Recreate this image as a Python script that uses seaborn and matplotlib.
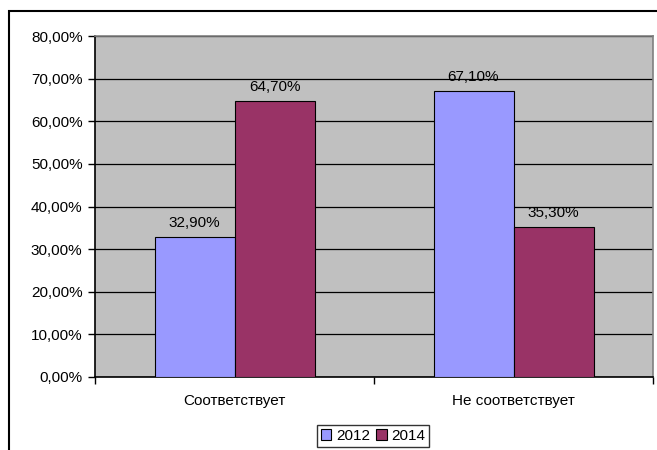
import matplotlib
matplotlib.use("Agg")
import matplotlib.pyplot as plt
import seaborn as sns
import pandas as pd
from matplotlib.patches import Rectangle
from matplotlib.ticker import FuncFormatter, FixedLocator

categories = ["Соответствует", "Не соответствует"]
years = ["2012", "2014"]
values_2012 = [32.9, 67.1]
values_2014 = [64.7, 35.3]
colors = ["#9999FF", "#993366"]

df = pd.DataFrame({
    "Категория": categories * 2,
    "Год": [years[0]] * 2 + [years[1]] * 2,
    "Значение": values_2012 + values_2014,
})

sns.set_style("white")
plt.rcParams["font.family"] = ["Liberation Sans", "DejaVu Sans"]
plt.rcParams["text.color"] = "black"
plt.rcParams["xtick.color"] = "black"
plt.rcParams["ytick.color"] = "black"

FS = 11

W, H = 657, 450
fig = plt.figure(figsize=(W / 100, H / 100), dpi=100)
ax = fig.add_axes([95 / W, 1 - 377 / H, (653 - 95) / W, (377 - 36) / H])
ax.set_facecolor("#C0C0C0")

sns.barplot(data=df, x="Категория", y="Значение", hue="Год",
            palette=colors, width=160 / 279, edgecolor="black",
            linewidth=0.8, gap=0, ax=ax, zorder=3, saturation=1)

ax.set_xlim(-0.5, 1.5)
ax.set_ylim(0, 80)
ax.yaxis.set_major_locator(FixedLocator(range(0, 81, 10)))
ax.yaxis.set_major_formatter(FuncFormatter(lambda v, p: f"{v:.2f}%".replace(".", ",")))
ax.grid(axis="y", color="black", linewidth=0.9, zorder=1)
ax.set_axisbelow(True)
ax.set_xlabel("")
ax.set_ylabel("")

for s in ["top", "right"]:
    ax.spines[s].set_color("#808080")
    ax.spines[s].set_linewidth(1.2)
for s in ["left", "bottom"]:
    ax.spines[s].set_color("black")
    ax.spines[s].set_linewidth(1.2)

ax.tick_params(axis="y", direction="out", length=5, width=1, color="black",
               labelsize=FS, labelcolor="black", pad=4, left=True)
ax.set_xticks([0, 1])
ax.set_xticklabels(categories, fontsize=FS, color="black")
ax.tick_params(axis="x", length=0, pad=12)
ax.xaxis.set_minor_locator(FixedLocator([-0.5, 0.5, 1.5]))
ax.tick_params(axis="x", which="minor", direction="out", length=5, width=1,
               color="black", bottom=True)

for container in ax.containers:
    labels = [f"{b.get_height():.2f}%".replace(".", ",") for b in container]
    ax.bar_label(container, labels=labels, padding=5, fontsize=FS, color="black")

ax.legend_.remove()
handles = [Rectangle((0, 0), 1, 1, facecolor=c, edgecolor="black", linewidth=0.8)
           for c in colors]
leg = fig.legend(handles, years, loc="center", bbox_to_anchor=(373 / W, 1 - 436 / H),
                 ncol=2, frameon=True, fontsize=FS, handlelength=0.7,
                 handleheight=0.7, handletextpad=0.3, columnspacing=0.4,
                 borderpad=0.25, fancybox=False, edgecolor="black")
leg.get_frame().set_linewidth(1.0)

# outer chart frame
fig.patches.append(Rectangle((9 / W, -0.1), 1.1, 1 - 11 / H + 0.1,
                             transform=fig.transFigure, fill=False,
                             edgecolor="black", linewidth=1.5))

fig.savefig("out.png", dpi=100, facecolor="white")
